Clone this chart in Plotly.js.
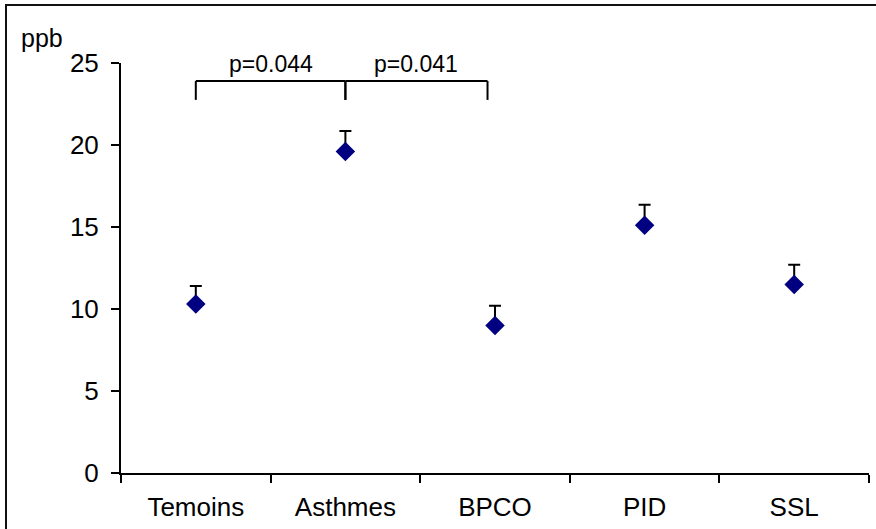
<!DOCTYPE html>
<html>
<head>
<meta charset="utf-8">
<script src="https://cdn.plot.ly/plotly-3.0.1.min.js"></script>
<style>
  html, body { margin: 0; padding: 0; background: #fff; }
  #wrap { position: relative; width: 876px; height: 529px; overflow: hidden; }
  #frame { position: absolute; left: 5px; top: 4px; width: 900px; height: 600px;
           border-top: 2px solid #111; border-left: 2px solid #111; pointer-events: none; }
</style>
</head>
<body>
<div id="wrap">
  <div id="chart" style="width:876px;height:529px;"></div>
  <div id="frame"></div>
</div>
<script>
// Data
const categories = ["Temoins", "Asthmes", "BPCO", "PID", "SSL"];
const means = [10.3, 19.6, 9.0, 15.1, 11.5];
const errUpper = [1.1, 1.25, 1.2, 1.25, 1.2];
const errLower = [0, 0, 0, 0, 0];
const yTicks = [0, 5, 10, 15, 20, 25];
const yUnit = "ppb";
// significance brackets: [from category index, to category index, label]
const brackets = [[0, 1, "p=0.044"], [1, 1.95, "p=0.041"]];
const bracketLevel = 23.9;
const bracketDrop = 22.75;
const labelLevel = 24.95;

const trace = {
  x: categories,
  y: means,
  type: "scatter",
  mode: "markers",
  marker: { symbol: "diamond", size: 15, color: "#000080" },
  error_y: {
    type: "data", symmetric: false,
    array: errUpper, arrayminus: errLower,
    color: "#000", thickness: 2, width: 6
  },
  showlegend: false,
  hoverinfo: "x+y"
};

const shapes = [];
const annotations = [];
brackets.forEach(([a, b, label]) => {
  shapes.push({ type: "line", xref: "x", yref: "y", x0: a, x1: b, y0: bracketLevel, y1: bracketLevel, line: { color: "#000", width: 2 } });
  shapes.push({ type: "line", xref: "x", yref: "y", x0: a, x1: a, y0: bracketLevel, y1: bracketDrop, line: { color: "#000", width: 2 } });
  shapes.push({ type: "line", xref: "x", yref: "y", x0: b, x1: b, y0: bracketLevel, y1: bracketDrop, line: { color: "#000", width: 2 } });
  annotations.push({ xref: "x", yref: "y", x: (a + b) / 2, y: labelLevel, text: label, showarrow: false,
    yanchor: "middle", font: { family: "Liberation Sans, Arial, sans-serif", size: 23, color: "#000" } });
});
annotations.push({ xref: "paper", yref: "paper", x: -0.106, y: 1.061, xanchor: "center", yanchor: "middle",
  text: yUnit, showarrow: false, font: { family: "Liberation Sans, Arial, sans-serif", size: 25, color: "#000" } });

const layout = {
  width: 876, height: 529,
  margin: { l: 121, r: 7, t: 63, b: 56 },
  paper_bgcolor: "#fff", plot_bgcolor: "#fff",
  font: { family: "Liberation Sans, Arial, sans-serif", size: 26, color: "#000" },
  xaxis: {
    type: "category", range: [-0.5, 4.5],
    tickson: "boundaries", ticks: "outside", ticklen: 8, tickwidth: 2, tickcolor: "#000",
    showline: true, linecolor: "#000", linewidth: 2,
    showgrid: false, zeroline: false,
    tickfont: { size: 26 }, ticklabelstandoff: 10, fixedrange: true
  },
  yaxis: {
    range: [0, 25], tickvals: yTicks,
    ticks: "outside", ticklen: 8, tickwidth: 2, tickcolor: "#000",
    showline: true, linecolor: "#000", linewidth: 2,
    showgrid: false, zeroline: false,
    tickfont: { size: 26 }, ticklabelstandoff: 7, fixedrange: true
  },
  shapes: shapes,
  annotations: annotations
};

Plotly.newPlot("chart", [trace], layout, { displayModeBar: false, staticPlot: true });
</script>
</body>
</html>
